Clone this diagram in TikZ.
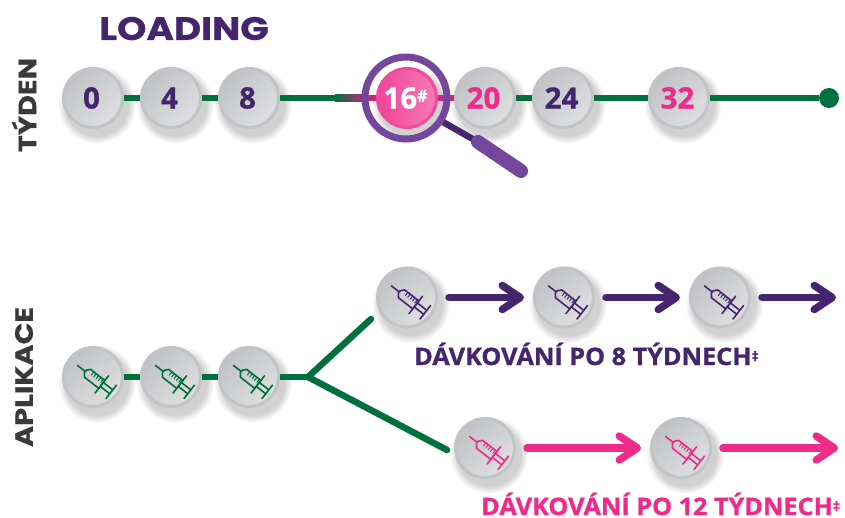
\documentclass[tikz,border=0pt]{standalone}
\usepackage{fontspec}
\setmainfont{Open Sans}
\newfontfamily\numface{Open Sans}[BoldFeatures={FakeBold=0.8}]
\newfontfamily\capface{Open Sans}[BoldFeatures={FakeBold=1,FakeStretch=1.05}]
\newfontfamily\wideface{Poppins}[BoldFeatures={FakeBold=0.5,FakeStretch=1.15}]
\usetikzlibrary{shadows,fadings,arrows.meta,calc}
\definecolor{dpurple}{HTML}{45266E}
\definecolor{lpurple}{HTML}{74479C}
\definecolor{hotpink}{HTML}{EE2A8B}
\definecolor{dgreen}{HTML}{00703C}
\definecolor{ringgray}{HTML}{C2C3C6}
\definecolor{discA}{HTML}{C0C2C5}
\definecolor{discB}{HTML}{DEDFE0}
\definecolor{magline}{HTML}{C4277F}
\definecolor{sidegray}{HTML}{3A3A3C}
\tikzset{
  discshadow/.style={general shadow={shadow xshift=3pt,shadow yshift=-5pt,shadow scale=1.32,fill=black,opacity=.18,path fading=circle with fuzzy edge 20 percent}},
  disc/.style={circle,inner sep=0pt,minimum size=59pt,draw=ringgray,line width=3pt,discshadow,
    shading=axis,left color=discA,right color=discB,shading angle=45,
    font=\numface\fontsize{29.5}{29.5}\bfseries,execute at end node={\hspace{3pt}}},
  hotdisc/.style={disc,draw=hotpink!85!white,left color=hotpink!88!white,right color=hotpink!62!white,text=white},
  greenline/.style={draw=dgreen,line width=6.5pt},
  greenround/.style={greenline,line cap=round},
  purplearrow/.style={draw=dpurple,line width=7.5pt,line cap=round,shorten >=9pt,shorten <=11pt,
    -{Straight Barb[length=18pt,width=24pt,line width=7.5pt,round]}},
  pinkarrow/.style={purplearrow,draw=hotpink},
  caption/.style={font=\capface\fontsize{24}{24}\bfseries,inner sep=0pt,anchor=base west},
  sidelabel/.style={font=\wideface\fontsize{25}{25}\bfseries,rotate=90,inner sep=0pt,text=sidegray},
  syringe/.pic={
    \begin{scope}[shift={(2.5,2.5)},rotate=-38,line width=1.6pt,line cap=round,line join=round,draw=#1]
      \draw (-23,0) -- (-13,0);
      \draw (-13,-1.5) -- (-10,-5) -- (8,-5) -- (8,5) -- (-10,5) -- (-13,1.5) -- cycle;
      \draw (8,-11) -- (8,11);
      \draw (8,-2.5) -- (20,-2.5) (8,2.5) -- (20,2.5);
      \draw (20,-8.5) -- (20,8.5);
      \foreach \u in {-6,-3,0,3,6}{\draw[line width=1pt] (\u,-5) -- (\u,-1);}
    \end{scope}
  }
}
\begin{document}
\begin{tikzpicture}[x=1pt,y=-1pt]
\useasboundingbox[fill=white] (0,0) rectangle (845,518);

% ---- week row
\node[disc,text=dpurple] (w0) at (93,98) {0};
\node[disc,text=dpurple] (w4) at (171,98) {4};
\node[disc,text=dpurple] (w8) at (249,98) {8};
\node[hotdisc] (w16) at (407,98) {16\raisebox{7pt}{\fontsize{16}{16}\selectfont\#}};
\node[disc,text=hotpink] (w20) at (485,98) {20};
\node[disc,text=dpurple] (w24) at (563,98) {24};
\node[disc,text=hotpink] (w32) at (679,98) {32};
\node[circle,fill=dgreen,minimum size=20pt,inner sep=0pt] (wend) at (829,98) {};

\draw[greenline] (w0) -- (w4);
\draw[greenline] (w4) -- (w8);
\draw[greenline] (w8) -- (w16);
\fill[left color=dgreen,right color=magline] (335,94.8) rectangle (365,101.2);
\fill[magline] (365,94.8) rectangle ($(w16.west)+(0,3.2)$);
\draw[draw=magline,line width=6.5pt] (w16) -- (w20);
\draw[greenline] (w20) -- (w24);
\draw[greenline] (w24) -- (w32);
\draw[greenline] (w32) -- (wend);

% ---- magnifier
\node[circle,draw=lpurple,line width=7pt,minimum size=82pt,inner sep=0pt] (lens) at (406,98) {};
\coordinate (h1) at (478,142);
\coordinate (h2) at (521,171);
\draw[draw=dpurple,line width=6.5pt] (lens.-33) -- (h1);
\draw[draw=lpurple,line width=14pt,line cap=round] (h1) -- (h2);

% ---- dose row
\node[disc] (a1) at (93,377) {};
\node[disc] (a2) at (171,377) {};
\node[disc] (a3) at (249,377) {};
\pic at (a1) {syringe=dgreen};
\pic at (a2) {syringe=dgreen};
\pic at (a3) {syringe=dgreen};
\draw[greenline] (a1) -- (a2);
\draw[greenline] (a2) -- (a3);

\coordinate (fork) at (308,377);
\node[disc] (p1) at (407,297.5) {};
\node[disc] (p2) at (564,297.5) {};
\node[disc] (p3) at (720,297.5) {};
\pic at (p1) {syringe=dpurple};
\pic at (p2) {syringe=dpurple};
\pic at (p3) {syringe=dpurple};
\node[disc] (k1) at (485,448) {};
\node[disc] (k2) at (681,448) {};
\pic at (k1) {syringe=hotpink};
\pic at (k2) {syringe=hotpink};

\coordinate (up) at (371,319);
\coordinate (down) at (447,450);
\draw[greenline] (a3) -- (fork);
\draw[greenround] (fork) -- (up);
\draw[greenround] (fork) -- (down);

\coordinate (pend) at (845,297.5);
\coordinate (kend) at (847,448);
\draw[purplearrow] (p1) -- (p2);
\draw[purplearrow] (p2) -- (p3);
\draw[purplearrow] (p3) -- (pend);
\draw[pinkarrow] (k1) -- (k2);
\draw[pinkarrow] (k2) -- (kend);

% ---- text
\node[font=\wideface\fontsize{32.5}{32.5}\bfseries,text=dpurple,inner sep=0pt,anchor=base west] (load) at (99,40) {LOADING};
\node[sidelabel] (lw) at (24,105) {TÝDEN};
\node[sidelabel] (la) at (24,377) {APLIKACE};
\node[caption,text=dpurple] (cp) at (414,365) {DÁVKOVÁNÍ PO 8 TÝDNECH\raisebox{4pt}{\fontsize{13}{13}\selectfont ‡}};
\node[caption,text=hotpink] (ck) at (481,515) {DÁVKOVÁNÍ PO 12 TÝDNECH\raisebox{4pt}{\fontsize{13}{13}\selectfont ‡}};
\end{tikzpicture}
\end{document}
